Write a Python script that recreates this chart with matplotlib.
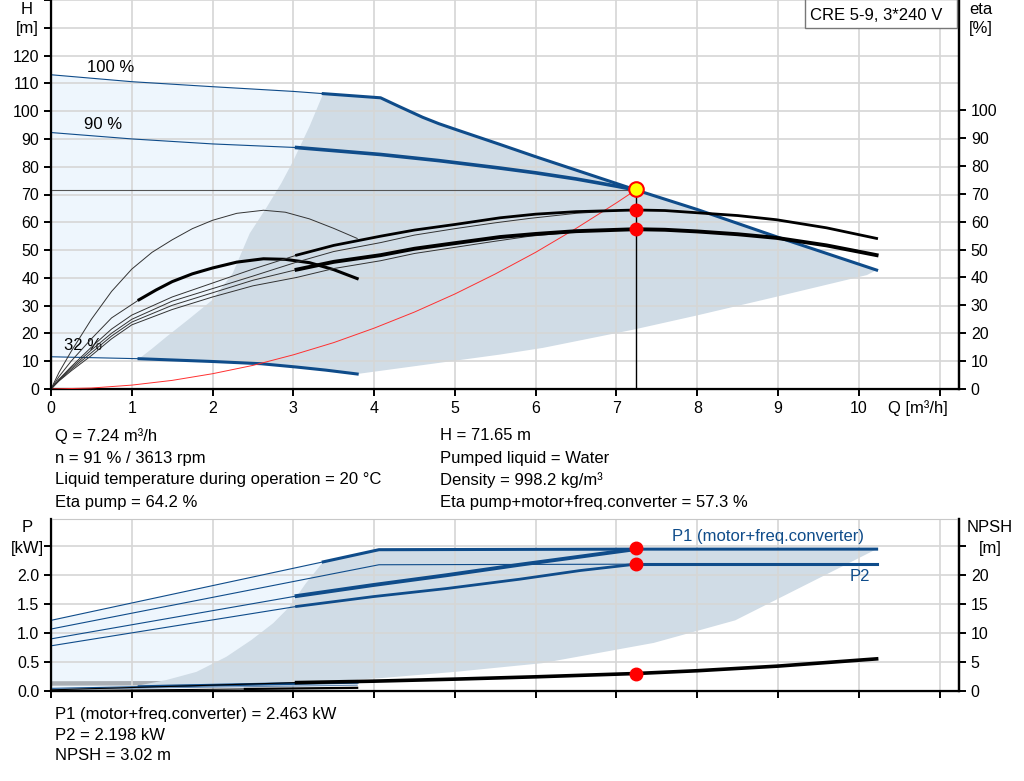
import matplotlib
matplotlib.use("Agg")
import matplotlib.pyplot as plt
from matplotlib.patches import Rectangle

plt.rcParams['font.family'] = ['Liberation Sans', 'DejaVu Sans']

BLUE = '#0F4C8A'
LIGHT = '#EEF6FD'
DARK = '#D0DCE6'
GRID = '#D6D6D6'
FS_TICK = 11.5
FS_TEXT = 12

# duty point
q_op = 7.24
h_op = 71.65
eta_pump_op = 64.2
eta_tot_op = 57.3
p1_op = 2.463
p2_op = 2.198
npsh_op = 3.02

# QH curves (m3/h, m)
q_100_thin = [0, 1, 2, 3, 3.37]
h_100_thin = [113.1, 110.6, 108.8, 107.1, 106.3]
q_100_thick = [3.37, 4.08]
h_100_thick = [106.3, 104.8]
q_max = [4.08, 4.3, 4.6, 4.8, 5.0, 5.56, 6.0, 7.24, 8.0, 9.0, 10.22]
h_max = [104.8, 101.8, 97.8, 95.5, 93.5, 88.0, 83.6, 71.65, 64.6, 54.6, 42.8]
q_90_thin = [0, 1, 2, 3.04]
h_90_thin = [92.3, 90.0, 88.2, 86.9]
q_90_thick = [3.04, 3.5, 4.08, 4.8, 5.56, 6.0, 6.5, 7.0, 7.24]
h_90_thick = [86.9, 85.8, 84.4, 82.2, 79.5, 77.8, 75.6, 73.0, 71.65]
q_32_thin = [0, 1.09]
h_32_thin = [11.6, 10.9]
q_32_thick = [1.09, 2.0, 2.6, 3.04, 3.4, 3.79]
h_32_thick = [10.9, 9.9, 9.1, 7.9, 6.8, 5.4]

# operating area borders
q_area_left = [1.09, 1.25, 1.43, 1.7, 2.0, 2.25, 2.46, 2.67, 2.85, 3.0, 3.2, 3.37]
h_area_left = [10.9, 14.5, 18.8, 25.0, 32.1, 41.7, 56.0, 65.4, 74.0, 82.2, 94.5, 106.3]
q_area_low = [3.79, 4.5, 5.56, 6.09, 7.2, 8.0, 8.98, 10.1, 10.22]
h_area_low = [5.4, 8.2, 12.4, 14.8, 21.3, 26.5, 33.2, 41.0, 42.8]

# system curve
q_sys = [0, 0.5, 1, 1.5, 2, 2.5, 3, 3.5, 4, 4.5, 5, 5.5, 6, 6.5, 7, 7.24]
h_sys = [0, 0.35, 1.4, 3.1, 5.5, 8.5, 12.3, 16.7, 21.9, 27.7, 34.2, 41.4, 49.2, 57.8, 67.0, 71.65]

# efficiency curves (%)
q_e32p = [0, 0.1, 0.25, 0.5, 0.75, 1, 1.25, 1.5, 1.75, 2, 2.3, 2.63, 2.9, 3.2, 3.5, 3.79]
e_e32p = [0, 6, 13.5, 25, 35, 43, 49, 53.5, 57.5, 60.5, 63, 64.1, 63.4, 61.0, 57.6, 54.0]
q_e32t_thin = [0, 0.1, 0.25, 0.5, 0.75, 1.09]
e_e32t_thin = [0, 4.5, 10, 18, 25.5, 32]
q_e32t = [1.09, 1.3, 1.5, 1.75, 2.0, 2.3, 2.63, 2.9, 3.2, 3.5, 3.79]
e_e32t = [32, 35.5, 38.5, 41.3, 43.4, 45.5, 46.7, 46.5, 45.3, 42.8, 39.6]
q_fan = [0, 0.1, 0.25, 0.5, 0.75, 1, 1.5, 2, 2.5, 3.04]
e_fan1 = [0, 3.5, 8, 15, 21.5, 26.5, 33, 38, 43, 48]
e_fan2 = [0, 3.3, 7.5, 14, 20, 25, 31.5, 36, 40.5, 45.5]
e_fan3 = [0, 3.1, 7, 13, 19, 24, 30, 34.5, 39, 42.8]
e_fan4 = [0, 2.9, 6.5, 12, 18, 23, 28.5, 33, 37, 40]
q_fan_ext = [3.04, 3.5, 4.08, 4.5, 5.0, 5.5, 5.93, 6.5, 7.0]
e_fan2_ext = [45.5, 49.3, 52.5, 55.2, 57.5, 59.6, 61.2, 63.0, 63.9]
e_fan4_ext = [40, 43.2, 46, 48.6, 50.8, 53.0, 54.8, 56.3, 57.1]
q_eta = [3.04, 3.5, 4.08, 4.5, 5.0, 5.56, 6.0, 6.5, 7.24, 7.6, 8.0, 8.5, 8.98, 9.6, 10.22]
eta_pump = [48, 51.5, 54.8, 57, 59, 61.4, 62.7, 63.6, 64.2, 64.0, 63.2, 62.2, 60.7, 57.8, 54]
eta_tot = [42.8, 45.6, 48.0, 50.3, 52.3, 54.5, 55.6, 56.6, 57.3, 57.1, 56.5, 55.5, 54.2, 51.5, 48]

# power curves (kW)
q_p1_100_thin = [0, 3.37]
p1_100_thin = [1.22, 2.23]
q_p1_100_thick = [3.37, 4.06, 7.24, 10.22]
p1_100_thick = [2.23, 2.44, 2.45, 2.45]
q_p2_100_thin = [0, 4.06, 7.24]
p2_100_thin = [1.07, 2.18, 2.19]
q_p2_100_thick = [7.24, 10.22]
p2_100_thick = [2.19, 2.19]
q_p_91_thin = [0, 3.04]
p1_91_thin = [0.90, 1.64]
p2_91_thin = [0.78, 1.46]
q_p_91 = [3.04, 3.99, 4.9, 5.8, 6.55, 7.24]
p1_91 = [1.64, 1.83, 2.0, 2.18, 2.32, 2.45]
p2_91 = [1.46, 1.63, 1.77, 1.93, 2.08, 2.19]
q_p1_32_thin = [0, 1.09]
p1_32_thin = [0.045, 0.075]
q_p1_32 = [1.09, 3.04, 3.79]
p1_32 = [0.075, 0.13, 0.15]
q_p2_32 = [0, 3.79]
p2_32 = [0.03, 0.10]
q_band = [0, 3.04]
p_band = [0.13, 0.14]

# power area borders
q_parea_left = [1.1, 1.43, 1.8, 2.17, 2.48, 2.75, 2.95, 3.15, 3.37]
p_parea_left = [0.10, 0.19, 0.33, 0.59, 0.88, 1.17, 1.45, 1.85, 2.23]
q_parea_low = [3.05, 4.06, 5.0, 6.08, 7.46, 8.47, 10.22]
p_parea_low = [0.14, 0.22, 0.33, 0.48, 0.83, 1.22, 2.45]

# NPSH (m)
q_npsh_thin = [0, 1.5, 3.04]
npsh_thin = [0.2, 0.8, 1.45]
q_npsh = [3.04, 4.0, 5.0, 6.0, 7.24, 8.0, 9.0, 10.22]
npsh = [1.45, 1.7, 2.05, 2.45, 3.02, 3.5, 4.3, 5.55]
q_npsh32_thin = [0, 2.4]
npsh32_thin = [0.05, 0.35]
q_npsh32 = [2.4, 3.79]
npsh32 = [0.35, 0.55]

info_left = ["Q = 7.24 m³/h", "n = 91 % / 3613 rpm",
             "Liquid temperature during operation = 20 °C", "Eta pump = 64.2 %"]
info_right = ["H = 71.65 m", "Pumped liquid = Water",
              "Density = 998.2 kg/m³", "Eta pump+motor+freq.converter = 57.3 %"]
info_bottom = ["P1 (motor+freq.converter) = 2.463 kW", "P2 = 2.198 kW",
               "NPSH = 3.02 m"]

W, H = 1024, 781
fig = plt.figure(figsize=(W / 100, H / 100), dpi=100)


def fx(px):
    return px / W


def fy(py):
    return 1 - py / H


def style_axes(ax):
    ax.set_xlim(0, 11.24)
    ax.set_xticks(range(0, 12))
    ax.grid(True, color=GRID, linewidth=1.2)
    ax.set_axisbelow('line')
    for s in ['left', 'bottom', 'right']:
        ax.spines[s].set_color('black')
        ax.spines[s].set_linewidth(1.6)
    ax.spines['top'].set_color('#C8C8C8')
    ax.tick_params(direction='out', length=5, width=1.4, labelsize=FS_TICK)


def style_twin(axt):
    axt.spines['right'].set_color('black')
    axt.spines['right'].set_linewidth(1.6)
    axt.spines['top'].set_visible(False)
    axt.tick_params(direction='out', length=5, width=1.4, labelsize=FS_TICK)


# ---------------- QH diagram
ax = fig.add_axes([fx(51), fy(389), fx(959 - 51), 389 / H])
style_axes(ax)
ax.set_ylim(0, 139.5)
ax.set_yticks(range(0, 141, 10))
ax.set_yticklabels([str(v) if v <= 120 else '' for v in range(0, 141, 10)])
for t in ax.yaxis.get_major_ticks()[-2:]:
    t.tick1line.set_visible(False)
ax.set_xticklabels([str(v) if v <= 10 else '' for v in range(0, 12)])
ax.spines['top'].set_visible(False)

light_q = q_100_thin + q_100_thick[1:] + q_32_thick[::-1] + q_32_thin[::-1]
light_h = h_100_thin + h_100_thick[1:] + h_32_thick[::-1] + h_32_thin[::-1]
ax.fill(light_q, light_h, color=LIGHT, zorder=0.5, lw=0)
dark_q = q_area_left + q_100_thick[1:] + q_max[1:] + q_area_low[::-1] + q_32_thick[::-1]
dark_h = h_area_left + h_100_thick[1:] + h_max[1:] + h_area_low[::-1] + h_32_thick[::-1]
ax.fill(dark_q, dark_h, color=DARK, zorder=0.8, lw=0)

ax.plot(q_100_thin, h_100_thin, color=BLUE, lw=0.8, zorder=3)
ax.plot(q_100_thick + q_max[1:], h_100_thick + h_max[1:], color=BLUE, lw=2.2, zorder=3)
ax.plot(q_90_thin, h_90_thin, color=BLUE, lw=0.8, zorder=3)
ax.plot(q_90_thick, h_90_thick, color=BLUE, lw=2.6, zorder=3)
ax.plot(q_32_thin, h_32_thin, color=BLUE, lw=0.8, zorder=3)
ax.plot(q_32_thick, h_32_thick, color=BLUE, lw=2.2, zorder=3)
ax.plot(q_sys, h_sys, color='#FF3030', lw=0.7, zorder=3)
ax.plot([0, q_op], [h_op, h_op], color='#555555', lw=0.8, zorder=2.8)
ax.plot([q_op, q_op], [0, h_op], color='black', lw=1.0, zorder=2.8)

ax.text(0.74, 115.6, '100 %', ha='center', va='center', fontsize=FS_TEXT)
ax.text(0.64, 95.2, '90 %', ha='center', va='center', fontsize=FS_TEXT)
ax.text(0.40, 15.6, '32 %', ha='center', va='center', fontsize=FS_TEXT)

fig.add_artist(Rectangle((fx(805), fy(28)), fx(152), 29 / H, transform=fig.transFigure,
                         facecolor='white', edgecolor='#777777', lw=1, zorder=10))
fig.text(fx(876), fy(15), 'CRE 5-9, 3*240 V', ha='center', va='center',
         fontsize=FS_TEXT, zorder=11)

axe = ax.twinx()
axe.set_ylim(0, 139.5)
axe.set_yticks(range(0, 101, 10))
style_twin(axe)
axe.plot(q_e32p, e_e32p, color='#333333', lw=0.7)
axe.plot(q_e32t_thin, e_e32t_thin, color='#333333', lw=0.7)
axe.plot(q_e32t, e_e32t, color='black', lw=2.2)
for e in [e_fan1, e_fan2, e_fan3, e_fan4]:
    axe.plot(q_fan, e, color='#333333', lw=0.7)
axe.plot(q_fan_ext, e_fan2_ext, color='#333333', lw=0.7)
axe.plot(q_fan_ext, e_fan4_ext, color='#333333', lw=0.7)
axe.plot(q_eta, eta_pump, color='black', lw=2.0)
axe.plot(q_eta, eta_tot, color='black', lw=2.8)
axe.plot([q_op, q_op], [eta_pump_op, eta_tot_op], 'o', color='#FF0000', ms=9, mec='#FF0000', zorder=5)
axe.plot([q_op], [h_op], 'o', color='#FFFF00', ms=10.5, mec='#FF0000', mew=1.5, zorder=6)

fig.text(fx(27), fy(10), 'H', ha='center', va='center', fontsize=FS_TEXT)
fig.text(fx(27), fy(29), '[m]', ha='center', va='center', fontsize=FS_TEXT)
fig.text(fx(981), fy(10), 'eta', ha='center', va='center', fontsize=FS_TEXT)
fig.text(fx(981), fy(29), '[%]', ha='center', va='center', fontsize=FS_TEXT)
fig.text(fx(918), fy(408), 'Q [m³/h]', ha='center', va='center', fontsize=FS_TEXT)

for i, s in enumerate(info_left):
    fig.text(fx(55), fy(436 + 22 * i), s, ha='left', va='center', fontsize=FS_TEXT)
for i, s in enumerate(info_right):
    fig.text(fx(440), fy(436 + 22 * i), s, ha='left', va='center', fontsize=FS_TEXT)

# ---------------- power diagram
axp = fig.add_axes([fx(51), fy(691), fx(959 - 51), (691 - 519) / H])
style_axes(axp)
axp.set_ylim(0, 2.97)
axp.set_yticks([0, 0.5, 1.0, 1.5, 2.0, 2.5])
axp.set_yticklabels(['0.0', '0.5', '1.0', '1.5', '2.0', ''])
axp.set_xticklabels([])

plight_q = q_p1_100_thin + q_p1_100_thick[1:2] + q_p2_32[::-1]
plight_p = p1_100_thin + p1_100_thick[1:2] + p2_32[::-1]
axp.fill(plight_q, plight_p, color=LIGHT, zorder=0.5, lw=0)
axp.plot(q_band, p_band, color='#A9AEB4', lw=3.2, zorder=0.6, solid_capstyle='butt')
pdark_q = q_parea_left + q_p1_100_thick[1:] + q_parea_low[::-1] + [1.1]
pdark_p = p_parea_left + p1_100_thick[1:] + p_parea_low[::-1] + [0.10]
axp.fill(pdark_q, pdark_p, color=DARK, zorder=0.8, lw=0)

axp.plot(q_p1_100_thin, p1_100_thin, color=BLUE, lw=0.8, zorder=3)
axp.plot(q_p1_100_thick, p1_100_thick, color=BLUE, lw=2.2, zorder=3)
axp.plot(q_p2_100_thin, p2_100_thin, color=BLUE, lw=0.8, zorder=3)
axp.plot(q_p2_100_thick, p2_100_thick, color=BLUE, lw=2.2, zorder=3)
axp.plot(q_p_91_thin, p1_91_thin, color=BLUE, lw=0.8, zorder=3)
axp.plot(q_p_91_thin, p2_91_thin, color=BLUE, lw=0.8, zorder=3)
axp.plot(q_p_91, p1_91, color=BLUE, lw=2.8, zorder=3)
axp.plot(q_p_91, p2_91, color=BLUE, lw=2.0, zorder=3)
axp.plot(q_p1_32_thin, p1_32_thin, color=BLUE, lw=0.8, zorder=3)
axp.plot(q_p1_32, p1_32, color=BLUE, lw=2.0, zorder=3)
axp.plot(q_p2_32, p2_32, color='#6A8DB5', lw=0.8, zorder=3)
axp.plot([q_op, q_op], [p1_op, p2_op], 'o', color='#FF0000', ms=9, zorder=5)
axp.text(10.07, 2.66, 'P1 (motor+freq.converter)', color=BLUE, ha='right', va='center', fontsize=FS_TEXT)
axp.text(10.14, 1.98, 'P2', color=BLUE, ha='right', va='center', fontsize=FS_TEXT)

axn = axp.twinx()
axn.set_ylim(0, 29.7)
axn.set_yticks([0, 5, 10, 15, 20, 25])
axn.set_yticklabels(['0', '5', '10', '15', '20', ''])
style_twin(axn)
axn.plot(q_npsh32_thin, npsh32_thin, color='black', lw=0.8)
axn.plot(q_npsh32, npsh32, color='black', lw=1.6)
axn.plot(q_npsh_thin, npsh_thin, color='black', lw=0.8)
axn.plot(q_npsh, npsh, color='black', lw=2.6)
axn.plot([q_op], [npsh_op], 'o', color='#FF0000', ms=9, zorder=5)

fig.text(fx(27), fy(528), 'P', ha='center', va='center', fontsize=FS_TEXT)
fig.text(fx(27), fy(548), '[kW]', ha='center', va='center', fontsize=FS_TEXT)
fig.text(fx(990), fy(528), 'NPSH', ha='center', va='center', fontsize=FS_TEXT)
fig.text(fx(990), fy(548), '[m]', ha='center', va='center', fontsize=FS_TEXT)

for i, s in enumerate(info_bottom):
    fig.text(fx(55), fy(714 + 21 * i), s, ha='left', va='center', fontsize=FS_TEXT)

fig.savefig('out.png', dpi=100)
